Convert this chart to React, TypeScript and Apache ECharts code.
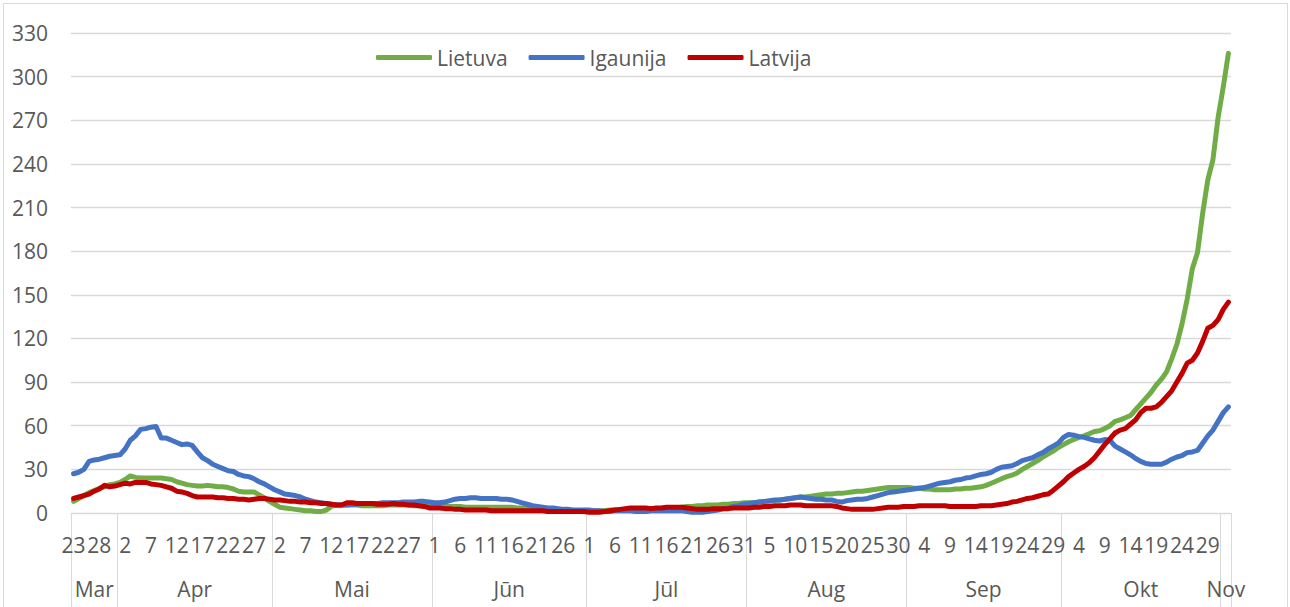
import React, { useEffect, useRef } from "react";
import * as echarts from "echarts";

// Month names and day ranges shown on the category axis (23 Mar – 2 Nov)
const MONTHS = ["Mar", "Apr", "Mai", "Jūn", "Jūl", "Aug", "Sep", "Okt", "Nov"];
const FIRST_DAY = [23, 1, 1, 1, 1, 1, 1, 1, 1];
const LAST_DAY = [31, 30, 31, 30, 31, 31, 30, 31, 2];

const SERIES_NAMES = ["Lietuva", "Igaunija", "Latvija"];

const Y_MIN = 0;
const Y_MAX = 330;
const Y_STEP = 30;

// 14-day cases per 100k, daily values
const LIETUVA = [
  // Mar
  8, 10, 12, 14, 15.5, 17, 18, 19.5, 20,
  // Apr
  21, 23, 25.5, 24.5, 24, 24, 24, 24, 24, 23.5, 23, 21.5, 20.5, 19.5, 19, 18.5, 18.5, 19, 18.5, 18, 18, 17.5, 16.5, 15, 14.5, 14.5, 14.5, 12.5, 10.5, 8,
  // Mai
  6, 4, 3.5, 3, 2.5, 2, 1.5, 1.5, 1, 1, 2, 4.5, 5.5, 5.5, 5.5, 5.5, 5.5, 5, 5, 5, 5, 5, 5.5, 5.5, 5.5, 5.5, 5.5, 5, 5, 5, 5,
  // Jūn
  5, 4.5, 4.5, 4.5, 4.5, 4.5, 4, 4, 4, 4, 4, 4, 4, 4, 4, 4, 3.5, 3.5, 3, 3, 2.5, 2.5, 2.5, 2, 2, 2, 2, 1.5, 1.5, 1.5,
  // Jūl
  1.5, 1.5, 1.5, 1.5, 2, 2, 2, 2, 2.5, 2.5, 2.5, 2.5, 3, 3, 3, 3.5, 3.5, 3.5, 4, 4.5, 4.5, 5, 5, 5.5, 5.5, 5.5, 6, 6, 6.5, 6.5, 7,
  // Aug
  7, 7, 7.5, 7.5, 8, 8.5, 9, 9.5, 10, 10.5, 11, 11, 11.5, 12, 12.5, 13, 13, 13.5, 13.5, 14, 14.5, 15, 15, 15.5, 16, 16.5, 17, 17.5, 17.5, 17.5, 17.5,
  // Sep
  17.5, 17, 17, 16.5, 16.5, 16, 16, 16, 16, 16.5, 16.5, 17, 17, 17.5, 18, 19, 20.5, 22, 23.5, 25, 26, 27.5, 30, 32, 34, 36, 38.5, 40.5, 42.5, 45,
  // Okt
  47, 49, 50.5, 52, 53, 54.5, 56, 56.5, 58, 60, 63, 64, 65.5, 67, 71, 75, 79, 83, 88, 92, 97, 106, 116, 130, 147, 168, 179, 206, 229, 243, 272,
  // Nov
  293, 316,
];

const IGAUNIJA = [
  // Mar
  27, 28, 30, 35.5, 36.5, 37, 38, 39, 39.5,
  // Apr
  40, 44, 50, 53, 57.5, 58, 59, 59.5, 51.5, 51.5, 50, 48.5, 47, 47.5, 46.5, 42, 38, 36, 33.5, 32, 30.5, 29, 28.5, 26.5, 25.5, 25, 23.5, 21.5, 20, 18,
  // Mai
  16, 14.5, 13, 12.5, 12, 11, 9.5, 8.5, 7.5, 7, 6.5, 6, 5.5, 5.5, 5.5, 6, 6, 6.5, 6.5, 6.5, 6.5, 7, 7, 7, 7, 7.5, 7.5, 7.5, 8, 8, 7.5,
  // Jūn
  7, 7, 7.5, 8.5, 9.5, 10, 10, 10.5, 10.5, 10, 10, 10, 10, 9.5, 9.5, 9, 8, 7, 6, 5, 4.5, 4, 3.5, 3.5, 3, 2.5, 2.5, 2, 2, 2,
  // Jūl
  2, 1.5, 1.5, 1, 1, 1.5, 1.5, 1.5, 1.5, 1, 1, 1, 1.5, 1.5, 1.5, 1.5, 1.5, 1.5, 1.5, 1, 0.5, 0.5, 0.5, 1, 1.5, 2, 3, 3.5, 4.5, 5, 6,
  // Aug
  6.5, 7, 7.5, 8, 8.5, 9, 9, 9.5, 10, 10.5, 11, 10.5, 10, 9.5, 9.5, 9, 9, 8, 7.5, 8.5, 9, 9.5, 9.5, 10, 11, 12, 13, 14, 14.5, 15, 15.5,
  // Sep
  16, 16.5, 17, 17.5, 18.5, 19.5, 20.5, 21, 21.5, 22.5, 23, 24, 24.5, 25.5, 26.5, 27, 28, 30, 31.5, 32, 32.5, 34, 36, 37, 38, 40, 41.5, 44, 46, 48,
  // Okt
  52, 54, 53.5, 52.5, 52, 51, 50, 49.5, 50.5, 50, 46, 44, 42, 40, 37.5, 35.5, 34, 33.5, 33.5, 33.5, 35, 37, 38.5, 39.5, 41.5, 42, 43, 48, 53, 57, 63,
  // Nov
  69, 73,
];

const LATVIJA = [
  // Mar
  10, 11, 12, 13, 15, 16.5, 19, 18, 18.5,
  // Apr
  19.5, 20.5, 20, 21, 21, 21, 20, 19.5, 19, 18, 17, 15, 14.5, 13.5, 12, 11, 11, 11, 11, 10.5, 10.5, 10, 10, 9.5, 9.5, 9, 9.5, 10, 10, 9.5,
  // Mai
  9, 9, 8.5, 8, 8, 7.5, 7.5, 7, 7, 6.5, 6.5, 6, 5.5, 5.5, 7, 7, 6.5, 6.5, 6.5, 6.5, 6, 6, 6, 6.5, 6, 6, 5.5, 5.5, 5, 4.5, 3.5,
  // Jūn
  3.5, 3.5, 3, 3, 2.5, 2.5, 2, 2, 2, 2, 2, 1.5, 1.5, 1.5, 1.5, 1.5, 1.5, 1.5, 1.5, 1.5, 1.5, 1.5, 1, 1, 1, 1, 1, 1, 1, 1,
  // Jūl
  0.5, 0.5, 0.5, 1, 1.5, 2, 2.5, 3, 3.5, 3.5, 3.5, 3.5, 3, 3.5, 3.5, 4, 4, 4, 4, 3.5, 3, 2.5, 2.5, 2.5, 3, 3, 3, 3, 3.5, 3.5, 3.5,
  // Aug
  3.5, 4, 4, 4.5, 4.5, 5, 5, 5, 5.5, 5.5, 5.5, 5, 5, 5, 5, 5, 5, 4.5, 3.5, 3, 2.5, 2.5, 2.5, 2.5, 2.5, 3, 3.5, 4, 4, 4, 4.5,
  // Sep
  4.5, 4.5, 5, 5, 5, 5, 5, 5, 4.5, 4.5, 4.5, 4.5, 4.5, 4.5, 5, 5, 5, 5.5, 6, 6.5, 7.5, 8, 9, 10, 10.5, 11.5, 12.5, 13, 15.5, 18.5,
  // Okt
  21.5, 25, 27.5, 30, 32, 34.5, 38, 42.5, 47, 51, 55, 57, 58, 61, 64, 69, 72, 72, 73, 76, 80, 84, 90, 96, 103, 105, 110, 118, 127, 129, 133,
  // Nov
  140, 145,
];

const COLORS = ["#70AD47", "#4472C4", "#C00000"];

// Build categories (day numbers) and month bookkeeping from the month table
const DAYS: string[] = [];
const MONTH_START: number[] = [];
const MONTH_LEN: number[] = [];
MONTHS.forEach((m, mi) => {
  MONTH_START.push(DAYS.length);
  MONTH_LEN.push(LAST_DAY[mi] - FIRST_DAY[mi] + 1);
  for (let d = FIRST_DAY[mi]; d <= LAST_DAY[mi]; d++) DAYS.push(String(d));
});
const MONTH_LABEL_IDX: Record<number, { name: string; even: boolean }> = {};
MONTHS.forEach((m, mi) => {
  const len = MONTH_LEN[mi];
  const even = len % 2 === 0;
  const idx = MONTH_START[mi] + (even ? len / 2 - 1 : (len - 1) / 2);
  MONTH_LABEL_IDX[idx] = { name: m, even };
});
const MONTH_START_SET = new Set(MONTH_START);

const FONT = "Open Sans";
const FS = 21;
const TEXT_COLOR = "#595959";
const GRID_COLOR = "#d9d9d9";

export default function App() {
  const ref = useRef<HTMLDivElement>(null);
  useEffect(() => {
    if (!ref.current) return;
    const chart = echarts.init(ref.current, null, { renderer: "svg" });
    const bandW = 1160 / DAYS.length;
    chart.setOption({
      animation: false,
      backgroundColor: "#ffffff",
      textStyle: { fontFamily: FONT },
      color: COLORS,
      graphic: [
        {
          type: "rect",
          shape: { x: 3.5, y: 3.5, width: 1284, height: 620 },
          style: { fill: "none", stroke: GRID_COLOR, lineWidth: 1 },
          silent: true,
        },
      ],
      legend: {
        left: 371,
        top: 42,
        icon: "roundRect",
        itemWidth: 56,
        itemHeight: 5,
        itemGap: 21,
        textStyle: { fontFamily: FONT, fontSize: FS, color: TEXT_COLOR },
        data: SERIES_NAMES,
      },
      grid: { left: 71, right: 59, top: 33, bottom: 94, containLabel: false },
      xAxis: [
        {
          type: "category",
          data: DAYS,
          boundaryGap: true,
          position: "bottom",
          axisLine: { show: true, lineStyle: { color: GRID_COLOR, width: 1 } },
          axisTick: {
            show: true,
            length: 96,
            interval: (i: number) => MONTH_START_SET.has(i),
            lineStyle: { color: GRID_COLOR, width: 1 },
          },
          axisLabel: {
            interval: (i: number) => i % 5 === 0,
            fontFamily: FONT,
            fontSize: FS,
            color: TEXT_COLOR,
            margin: 21,
          },
          splitLine: { show: false },
        },
        {
          type: "category",
          data: DAYS,
          boundaryGap: true,
          position: "bottom",
          axisLine: { show: false },
          axisTick: { show: false },
          axisLabel: {
            interval: (i: number) => MONTH_LABEL_IDX[i] !== undefined,
            formatter: (_v: string, i: number) => {
              const e = MONTH_LABEL_IDX[i];
              if (!e) return "";
              return e.even ? `{e|${e.name}}` : `{o|${e.name}}`;
            },
            rich: {
              e: { fontFamily: FONT, fontSize: FS, color: TEXT_COLOR, padding: [0, 0, 0, bandW] },
              o: { fontFamily: FONT, fontSize: FS, color: TEXT_COLOR },
            },
            fontFamily: FONT,
            fontSize: FS,
            color: TEXT_COLOR,
            margin: 65,
          },
          splitLine: { show: false },
        },
      ],
      yAxis: {
        type: "value",
        min: Y_MIN,
        max: Y_MAX,
        interval: Y_STEP,
        axisLine: { show: false },
        axisTick: { show: false },
        axisLabel: { fontFamily: FONT, fontSize: FS, color: TEXT_COLOR, margin: 23 },
        splitLine: { lineStyle: { color: GRID_COLOR, width: 1.3 } },
      },
      series: [LIETUVA, IGAUNIJA, LATVIJA].map((d, k) => ({
        name: SERIES_NAMES[k],
        type: "line",
        xAxisIndex: 0,
        data: d,
        showSymbol: false,
        symbol: "none",
        lineStyle: { width: 5, color: COLORS[k], cap: "round", join: "round" },
        itemStyle: { color: COLORS[k] },
        z: 2 + k,
      })),
    });
    return () => chart.dispose();
  }, []);
  return (
    <div
      ref={ref}
      style={{ position: "fixed", left: 0, top: 0, width: 1290, height: 607, background: "#fff" }}
    />
  );
}
